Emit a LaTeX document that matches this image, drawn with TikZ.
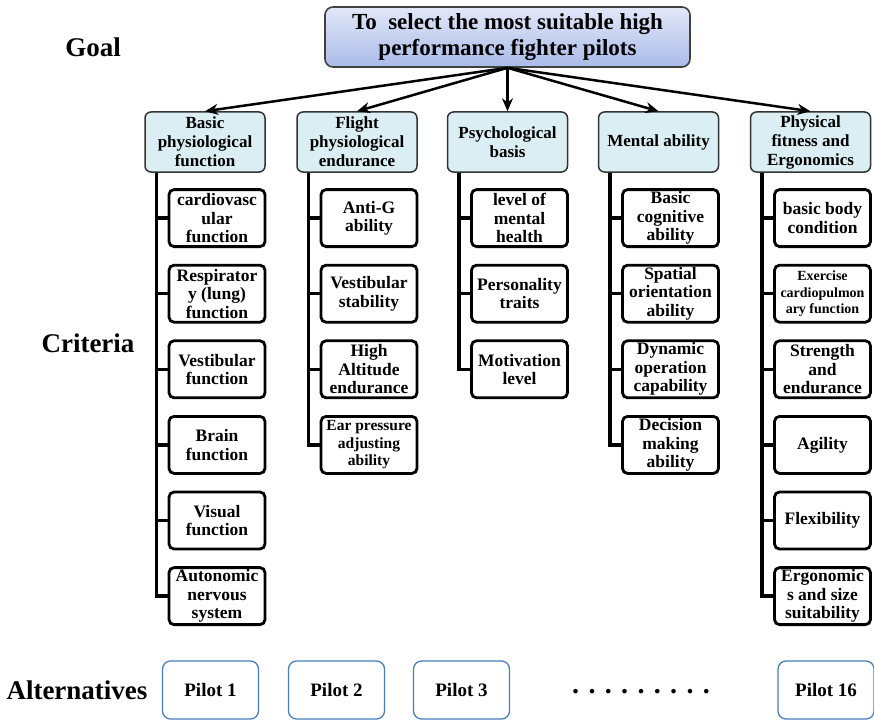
\documentclass[tikz,border=0pt]{standalone}
\usepackage{fontspec}
\setmainfont{Liberation Serif}
\usetikzlibrary{calc, arrows.meta}
\definecolor{catblue}{HTML}{DAEEF3}
\definecolor{goaltop}{HTML}{E2E8F8}
\definecolor{goalbot}{HTML}{AABBE8}
\definecolor{pilotblue}{HTML}{4A7EBB}

\begin{document}
\begin{tikzpicture}[x=1pt, y=-1pt,
  goalbox/.style={draw=black!75, line width=1.6pt, rounded corners=8pt,
    top color=goaltop, bottom color=goalbot, minimum width=365pt,
    minimum height=60pt, align=center, inner sep=1pt,
    font=\fontsize{23}{26}\selectfont\bfseries},
  catbox/.style={draw=black!80, line width=1.5pt, rounded corners=6pt,
    fill=catblue, minimum width=120pt, minimum height=60pt, align=center,
    inner sep=1pt, font=\fontsize{17}{19}\selectfont\bfseries},
  leaf/.style={draw, line width=2.8pt, rounded corners=5pt, fill=white,
    minimum width=96pt, minimum height=57pt, align=center, inner sep=0pt,
    font=\fontsize{17.5}{18.5}\selectfont\bfseries},
  leafmid/.style={leaf, font=\fontsize{15.5}{17.5}\selectfont\bfseries},
  leafsm/.style={leaf, font=\fontsize{14}{16.5}\selectfont\bfseries},
  pilot/.style={draw=pilotblue, line width=1.3pt, rounded corners=8pt,
    minimum width=96pt, minimum height=58pt,
    font=\fontsize{19}{21}\selectfont\bfseries},
  level/.style={font=\fontsize{27}{30}\selectfont\bfseries},
  spine/.style={line width=3.5pt},
  link/.style={line width=2.5pt, -{Stealth[length=13pt, width=11pt]}}]
  \useasboundingbox (0,0) rectangle (874,722);

  % levels
  \node[level] (lgoal) at (93,47) {Goal};
  \node[level] (lcrit) at (88,343) {Criteria};
  \node[level] (lalt) at (77,690) {Alternatives};

  % goal and criteria
  \node[goalbox] (goal) at (507.5,37) {To\ \ select the most suitable high\\performance fighter pilots};
  \node[catbox] (phys) at (205,142) {Basic\\physiological\\function};
  \node[catbox] (flight) at (357,142) {Flight\\physiological\\endurance};
  \node[catbox] (psych) at (507.5,142) {Psychological\\basis};
  \node[catbox] (mental) at (658.5,142) {Mental ability};
  \node[catbox] (fit) at (810.5,142) {Physical\\fitness and\\Ergonomics};
  \foreach \c in {phys, flight, psych, mental, fit}
    \draw[link] (goal.south) -- (\c.north);

  % sub-criteria, hung on a spine under each criterion
  \foreach \txt [count=\i] in {{cardiovasc\\ular\\function}, {Respirator\\y (lung)\\function},
      {Vestibular\\function}, {Brain\\function}, {Visual\\function}, {Autonomic\\nervous\\system}} {
    \node[leaf] (phys-\i) at (217,142.5+75.6*\i) {\txt};
    \draw[spine] ([xshift=12pt]phys.south west) |- (phys-\i.west);
  }
  \foreach \st/\txt [count=\i] in {leaf/{Anti-G\\ability}, leaf/{Vestibular\\stability},
      leaf/{High\\Altitude\\endurance}, leafmid/{Ear pressure\\adjusting\\ability}} {
    \node[\st] (flight-\i) at (369,142.5+75.6*\i) {\txt};
    \draw[spine] ([xshift=12pt]flight.south west) |- (flight-\i.west);
  }
  \foreach \txt [count=\i] in {{level of\\mental\\health}, {Personality\\traits}, {Motivation\\level}} {
    \node[leaf] (psych-\i) at (519.5,142.5+75.6*\i) {\txt};
    \draw[spine] ([xshift=12pt]psych.south west) |- (psych-\i.west);
  }
  \foreach \txt [count=\i] in {{Basic\\cognitive\\ability}, {Spatial\\orientation\\ability},
      {Dynamic\\operation\\capability}, {Decision\\making\\ability}} {
    \node[leaf] (mental-\i) at (670.5,142.5+75.6*\i) {\txt};
    \draw[spine] ([xshift=12pt]mental.south west) |- (mental-\i.west);
  }
  \foreach \st/\txt [count=\i] in {leaf/{basic body\\condition}, leafsm/{Exercise\\cardiopulmon\\ary function},
      leaf/{Strength\\and\\endurance}, leaf/{Agility}, leaf/{Flexibility}, leaf/{Ergonomic\\s and size\\suitability}} {
    \node[\st] (fit-\i) at (822.5,142.5+75.6*\i) {\txt};
    \draw[spine] ([xshift=12pt]fit.south west) |- (fit-\i.west);
  }

  % alternatives
  \node[pilot] (p1) at (210.5,690) {Pilot 1};
  \node[pilot] (p2) at (336.5,690) {Pilot 2};
  \node[pilot] (p3) at (461.5,690) {Pilot 3};
  \node[font=\fontsize{28}{30}\selectfont\bfseries] (dots) at (641,692) {. . . . . . . . .};
  \node[pilot] (p16) at (826,690) {Pilot 16};
\end{tikzpicture}
\end{document}
